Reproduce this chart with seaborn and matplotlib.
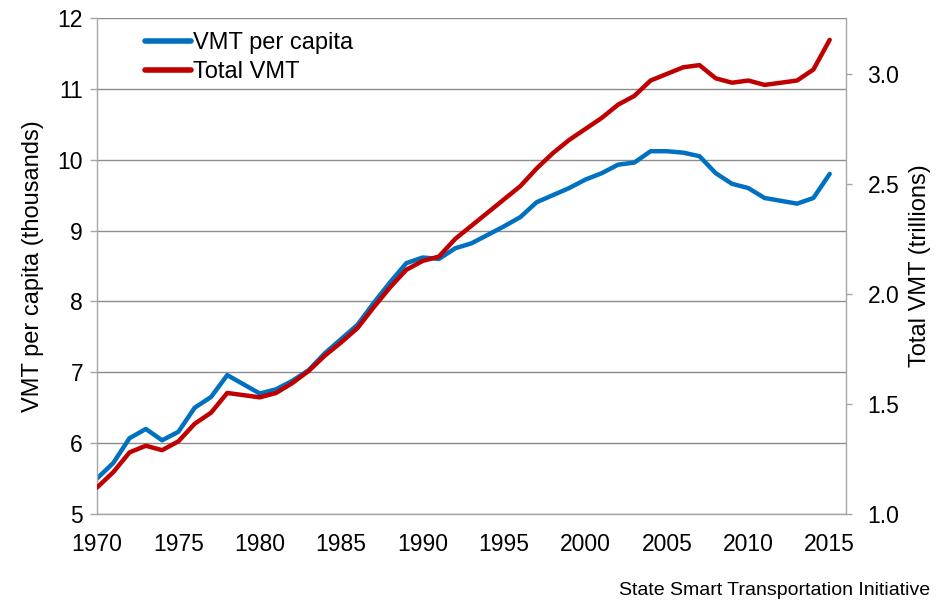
import numpy as np
import pandas as pd
import seaborn as sns
import matplotlib.pyplot as plt
from matplotlib.lines import Line2D

# Values
years = list(range(1970, 2016))
vmt_per_capita = [5.50, 5.72, 6.07, 6.20, 6.04, 6.16, 6.50, 6.65, 6.96, 6.83,
                  6.70, 6.76, 6.88, 7.03, 7.27, 7.47, 7.67, 7.98, 8.27, 8.54,
                  8.62, 8.60, 8.75, 8.82, 8.94, 9.06, 9.19, 9.40, 9.50, 9.60,
                  9.72, 9.81, 9.93, 9.96, 10.12, 10.12, 10.10, 10.05, 9.81, 9.66,
                  9.60, 9.46, 9.42, 9.38, 9.46, 9.80]
total_vmt = [1.12, 1.19, 1.28, 1.31, 1.29, 1.33, 1.41, 1.46, 1.55, 1.54,
             1.53, 1.55, 1.595, 1.65, 1.72, 1.78, 1.845, 1.94, 2.03, 2.11,
             2.15, 2.17, 2.25, 2.31, 2.37, 2.43, 2.49, 2.57, 2.64, 2.70,
             2.75, 2.80, 2.86, 2.90, 2.97, 3.00, 3.03, 3.04, 2.98, 2.96,
             2.97, 2.95, 2.96, 2.97, 3.02, 3.155]

df = pd.DataFrame({'year': years, 'per_capita': vmt_per_capita, 'total': total_vmt})

blue = '#0070C0'
red = '#C00000'
grey = '#A6A6A6'

sns.set_style('white')
plt.rcParams['font.family'] = ['Liberation Sans', 'DejaVu Sans']
plt.rcParams['text.color'] = 'black'
plt.rcParams['axes.labelcolor'] = 'black'

fig = plt.figure(figsize=(9.38, 6.01), dpi=100)
ax = fig.add_axes([0.1034, 0.1448, 0.7985, 0.8252])
ax2 = ax.twinx()

sns.lineplot(data=df, x='year', y='per_capita', ax=ax, color=blue, linewidth=3.2)
sns.lineplot(data=df, x='year', y='total', ax=ax2, color=red, linewidth=3.2)

ax.set_xlim(1970, 2016)
ax.set_ylim(5, 12)
ax2.set_ylim(1.0, 3.254)
ax.set_xticks(range(1970, 2016, 5))
ax.set_yticks(range(5, 13))
ax2.set_yticks([1.0, 1.5, 2.0, 2.5, 3.0])
ax2.set_yticklabels(['1.0', '1.5', '2.0', '2.5', '3.0'])

ax.grid(axis='y', color='#8C8C8C', linewidth=1)
ax.set_axisbelow(True)
ax2.grid(False)

for a in (ax, ax2):
    a.spines['top'].set_visible(False)
    for s in ('left', 'right', 'bottom'):
        a.spines[s].set_color(grey)
        a.spines[s].set_linewidth(1)
    a.tick_params(axis='both', which='both', labelsize=16.5, colors='black',
                  length=4.5, width=1, color=grey, direction='out')
ax.spines['right'].set_visible(False)
ax2.spines['left'].set_visible(False)
ax2.spines['bottom'].set_visible(False)
ax.tick_params(axis='y', length=5, pad=5)
ax.tick_params(axis='x', pad=9)
ax2.tick_params(axis='y', pad=11)

ax.set_xlabel('')
ax.set_ylabel('VMT per capita (thousands)', fontsize=17, labelpad=10, color='black')
ax2.set_ylabel('Total VMT (trillions)', fontsize=17, labelpad=7, color='black')

handles = [Line2D([0], [0], color=blue, linewidth=4),
           Line2D([0], [0], color=red, linewidth=4)]
ax.legend(handles, ['VMT per capita', 'Total VMT'], loc='upper left',
          bbox_to_anchor=(0.045, 1.0), frameon=False, fontsize=17,
          handlelength=1.95, handletextpad=0.1, labelspacing=0.3,
          borderaxespad=0.2, labelcolor='black')

fig.text(0.992, 0.004, 'State Smart Transportation Initiative', ha='right',
         va='bottom', fontsize=14, color='black')

fig.savefig('out.png', dpi=100)
